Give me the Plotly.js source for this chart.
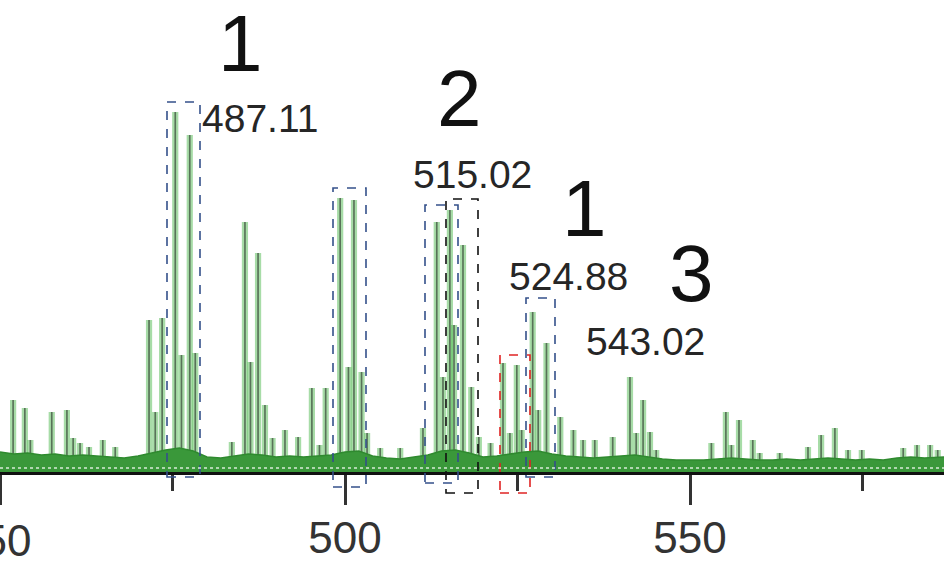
<!DOCTYPE html>
<html>
<head>
<meta charset="utf-8">
<script src="https://cdn.plot.ly/plotly-3.0.1.min.js"></script>
<style>html,body{margin:0;padding:0;background:#fff;}#chart{width:944px;height:561px;}</style>
</head>
<body>
<div id="chart"></div>
<script>
// Peak m/z positions and intensities
const peakMz = [451.9,453.6,454.4,457.5,459.7,460.6,461.6,462.9,464.9,466.7,
  471.6,472.5,473.5,475.4,476.3,477.5,478.3,483.6,485.5,486.3,487.4,488.4,489.5,
  491.3,493.2,495.2,496.3,497.2,499.3,500.5,501.3,502.4,503.2,505.1,508.0,
  511.3,513.3,514.2,515.2,515.8,517.1,518.3,519.4,521.1,522.9,523.9,524.9,525.6,
  527.2,528.0,529.2,531.2,533.1,534.5,536.2,538.8,541.3,542.2,543.2,544.2,545.1,
  553.1,555.2,556.0,557.1,559.1,560.1,563.0,567.1,569.0,571.0,572.9,574.9,
  580.9,582.9,584.8,585.9];
const peakInt = [72,64,32,60,62,34,29,25,32,25,
  152,60,154,360,117,337,119,30,250,110,219,67,34,
  42,35,84,27,84,274,105,272,100,39,24,24,
  44,250,95,262,147,227,85,35,29,109,39,107,42,
  160,62,129,55,42,32,32,35,95,39,72,40,22,
  29,60,27,52,32,19,19,25,37,44,22,22,
  24,27,27,22];

// Baseline noise floor (approximate top of the green band)
const noiseMz  = [450,452,454,456,458,460,462,464,466,468,470,472,474,476,478,480,482,484,486,488,490,492,494,496,498,500,502,504,506,508,510,512,514,516,518,520,522,524,526,528,530,532,534,536,538,540,542,544,546,548,550,552,554,556,558,560,562,564,566,568,570,572,574,576,578,580,582,584,587];
const noiseInt = [20,18,19,17,18,16,17,16,15,14,16,19,22,24,21,15,14,16,18,17,15,16,15,16,17,20,21,16,14,13,15,17,21,22,19,15,16,18,20,21,18,16,15,14,15,16,17,15,13,12,12,12,13,14,13,12,12,13,12,13,14,13,12,13,12,14,15,14,15];

// Axis tick values / labels
const tickVals = [450, 500, 550];
const tickText = ['450', '500', '550'];

// Annotation labels
const groupLabels = ['1', '2', '1', '3'];
const mzLabels = ['487.11', '515.02', '524.88', '543.02'];

const W = 944, H = 561, plotH = 472;
const px = v => v / W;
const py = v => (plotH - v) / plotH;
const FONT = 'Liberation Sans, Arial, sans-serif';

const traces = [
  {type:'scatter', mode:'lines', x:noiseMz, y:noiseInt, fill:'tozeroy',
   line:{color:'#2f8a2f', width:1.5, shape:'linear'}, fillcolor:'#3a983a', hoverinfo:'skip'},
  {type:'bar', x:peakMz, y:peakInt, width:0.9,
   marker:{color:'rgba(80,185,80,0.5)', line:{width:0}}, hoverinfo:'skip'},
  {type:'bar', x:peakMz, y:peakInt, width:0.24,
   marker:{color:'#587258', line:{width:0}}, hoverinfo:'skip'}
];

const labelPos = [[240,44],[459,98],[584,208],[691,273]];
const mzPos = [[260,118],[472,174],[568,276],[645,341]];

const annotations = [];
groupLabels.forEach((t,i)=>{
  annotations.push({text:t, xref:'paper', yref:'paper', x:px(labelPos[i][0]), y:py(labelPos[i][1]),
    xanchor:'center', yanchor:'middle', showarrow:false,
    font:{family:FONT, size:80, color:'#111'}});
});
mzLabels.forEach((t,i)=>{
  annotations.push({text:t, xref:'paper', yref:'paper', x:px(mzPos[i][0]), y:py(mzPos[i][1]),
    xanchor:'center', yanchor:'middle', showarrow:false,
    font:{family:FONT, size:39, color:'#262626'}});
});
// first tick label (450) sits on the left edge and is only partly visible, as in the source crop
annotations.push({text:tickText[0], xref:'paper', yref:'paper', x:px(-6), y:py(540),
  xanchor:'center', yanchor:'middle', showarrow:false,
  font:{family:FONT, size:44, color:'#333'}});

const boxes = [
  [167,102,200,477,'#34508a'],
  [333,188,366,487,'#34508a'],
  [425,205,458,483,'#34508a'],
  [446,199,478,493,'#111111'],
  [500,355,530,493,'#e02424'],
  [526,298,555,477,'#34508a']
];
const shapes = boxes.map(b=>({type:'rect', xref:'paper', yref:'paper',
  x0:px(b[0]), x1:px(b[2]), y0:py(b[3]), y1:py(b[1]),
  line:{color:b[4], width:1.6, dash:'dash'}, fillcolor:'rgba(0,0,0,0)', layer:'above'}));
shapes.push({type:'line', xref:'paper', yref:'y', x0:0, x1:1, y0:4, y1:4,
  line:{color:'rgba(255,255,255,0.8)', width:1.5, dash:'dot'}, layer:'above'});

const layout = {
  width:W, height:H,
  margin:{l:0, r:0, t:0, b:H-plotH, pad:0},
  paper_bgcolor:'#fff', plot_bgcolor:'#fff',
  showlegend:false, barmode:'overlay',
  xaxis:{range:[450, 450+944/6.9], showgrid:false, zeroline:false,
    showline:true, linecolor:'#111', linewidth:3,
    ticks:'outside', ticklen:30, tickwidth:3, tickcolor:'#333',
    ticklabelstandoff:-5,
    tickvals:tickVals, ticktext:tickText,
    minor:{dtick:25, tick0:450, ticks:'outside', ticklen:16, tickwidth:3, tickcolor:'#333'},
    tickfont:{family:FONT, size:44, color:'#333'}},
  yaxis:{range:[0, plotH], visible:false, showgrid:false, zeroline:false, fixedrange:true},
  annotations:annotations, shapes:shapes
};

Plotly.newPlot('chart', traces, layout, {staticPlot:true, displayModeBar:false});
</script>
</body>
</html>
